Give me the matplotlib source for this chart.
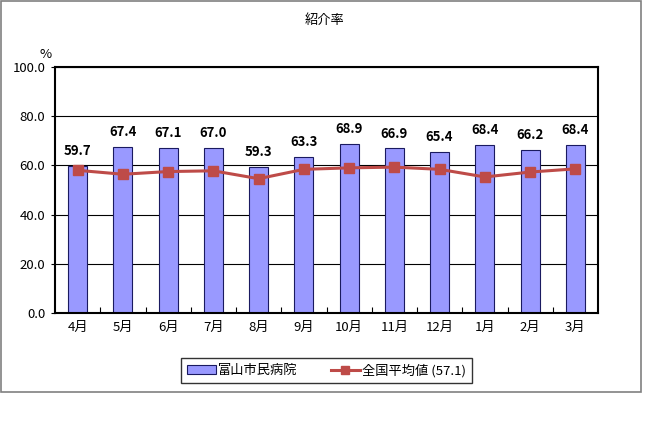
import numpy as np
import matplotlib.pyplot as plt
from matplotlib.patches import Rectangle
from matplotlib.ticker import FixedLocator

plt.rcParams['font.family'] = ['Noto Sans CJK JP', 'DejaVu Sans']

# データ
months = ['4月', '5月', '6月', '7月', '8月', '9月', '10月', '11月', '12月', '1月', '2月', '3月']
hospital = [59.7, 67.4, 67.1, 67.0, 59.3, 63.3, 68.9, 66.9, 65.4, 68.4, 66.2, 68.4]
national = [58.0, 56.4, 57.5, 57.8, 54.6, 58.4, 59.0, 59.3, 58.4, 55.3, 57.3, 58.6]
yticks = [0, 20, 40, 60, 80, 100]

fig = plt.figure(figsize=(6.48, 4.45), dpi=100)
# 外枠
fig.patches.append(Rectangle((1 / 648, 1 - 392 / 445), 640 / 648, 391 / 445,
                             transform=fig.transFigure, fill=False,
                             edgecolor='#808080', linewidth=1.2))

ax = fig.add_axes([55 / 648, 1 - 313 / 445, 543 / 648, 246 / 445])
x = np.arange(len(months))

bars = ax.bar(x, hospital, width=0.42, color='#9999FF', edgecolor='#1a1a60',
              linewidth=0.8, zorder=2, label='富山市民病院')
line, = ax.plot(x, national, color='#BE4B48', linewidth=2.2, marker='s',
                markersize=7, markerfacecolor='#BE4B48', markeredgecolor='#BE4B48',
                zorder=3, label='全国平均値 (57.1)')

for xi, v in zip(x, hospital):
    ax.text(xi, v + 3.2, f'{v:.1f}', ha='center', va='bottom',
            fontsize=9.5, fontweight='bold')

ax.set_xlim(-0.5, len(months) - 0.5)
ax.set_ylim(0, 100)
ax.set_yticks(yticks)
ax.set_yticklabels([f'{t:.1f}' for t in yticks], fontsize=9.5)
ax.set_xticks(x)
ax.set_xticklabels(months, fontsize=9.5)
ax.tick_params(axis='x', which='major', length=0, pad=6)
ax.xaxis.set_minor_locator(FixedLocator(np.arange(0.5, len(months) - 1, 1)))
ax.tick_params(axis='x', which='minor', direction='in', length=4, width=0.8)
ax.tick_params(axis='y', length=3, width=0.8, pad=4)
ax.grid(axis='y', color='black', linewidth=0.8, zorder=1)
ax.set_axisbelow(True)
for s in ax.spines.values():
    s.set_linewidth(1.5)

fig.text(325 / 648, 1 - 20 / 445, '紹介率', ha='center', va='center', fontsize=9.5)
fig.text(46 / 648, 1 - 55 / 445, '%', ha='center', va='center', fontsize=9.5)

leg = ax.legend([bars, line], ['富山市民病院', '全国平均値 (57.1)'],
                loc='center', bbox_to_anchor=(326.5 / 648, 1 - 370.5 / 445),
                bbox_transform=fig.transFigure, ncol=2, frameon=True,
                fancybox=False, edgecolor='black', fontsize=9.5,
                handlelength=2.2, handleheight=0.6, handletextpad=0.2,
                columnspacing=2.5, borderpad=0.45, markerscale=0.8)
leg.get_frame().set_linewidth(1.0)

fig.savefig('out.png', dpi=100)
